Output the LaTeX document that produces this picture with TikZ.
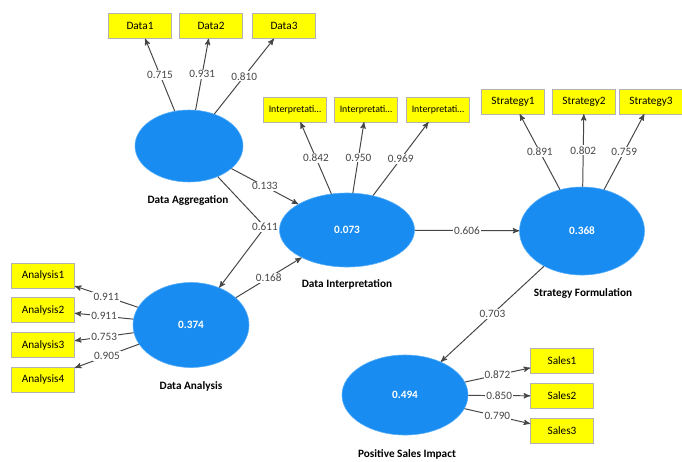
\documentclass[tikz,border=0pt]{standalone}
\usepackage{fontspec}
\setmainfont{Carlito}
\usepackage{tikz}
\usetikzlibrary{arrows,positioning,calc,shapes.geometric}
\definecolor{lvblue}{RGB}{24,140,240}
\definecolor{lvedge}{RGB}{90,175,250}
\definecolor{indyellow}{RGB}{255,255,0}
\definecolor{pathgray}{RGB}{70,70,70}

\begin{document}
\begin{tikzpicture}[x=0.025cm, y=-0.025cm, >=stealth', semithick,
      latent/.style={ellipse,fill=lvblue,draw=lvedge,thin,text=white,font=\fontsize{8}{9.6}\selectfont\bfseries,inner sep=0pt},
      indicator/.style={rectangle,fill=indyellow,draw=gray!60,thin,text=black,minimum width=1.58cm,minimum height=0.62cm,inner sep=1pt,font=\fontsize{8}{9.6}\selectfont},
      cutname/.style={indicator,font=\fontsize{7}{8.4}\selectfont},
      lvname/.style={font=\fontsize{8}{9.6}\selectfont\bfseries,text=black},
      coef/.style={fill=white,inner sep=0.8pt,text=pathgray,font=\fontsize{8}{9.6}\selectfont},
      link/.style={->,draw=pathgray,line width=0.7pt}]
    \useasboundingbox (0,0) rectangle (682,461);
    % latent variables
    \node[latent,minimum width=2.7cm,minimum height=1.8cm] at (189,146) (agg) {};
    \node[latent,minimum width=3.375cm,minimum height=1.85cm] at (347,230) (interp) {0.073};
    \node[latent,minimum width=3.125cm,minimum height=2.2cm] at (582,231) (strat) {0.368};
    \node[latent,minimum width=2.9cm,minimum height=2.125cm] at (191,325) (anal) {0.374};
    \node[latent,minimum width=3.15cm,minimum height=2cm] at (405,395) (sales) {0.494};
    \node[lvname] at (188,200) {Data Aggregation};
    \node[lvname] at (347,284) {Data Interpretation};
    \node[lvname] at (583,293) {Strategy Formulation};
    \node[lvname] at (191,386) {Data Analysis};
    \node[lvname] at (407,454) {Positive Sales Impact};
    % indicators
    \node[indicator] at (140,26) (d1) {Data1};
    \node[indicator] at (211,26) (d2) {Data2};
    \node[indicator] at (284,26) (d3) {Data3};
    \node[cutname] at (295,109.5) (i1) {Interpretati…};
    \node[cutname] at (366,109.5) (i2) {Interpretati…};
    \node[cutname] at (438,109.5) (i3) {Interpretati…};
    \node[indicator] at (513,101.5) (s1) {Strategy1};
    \node[indicator] at (584,101.5) (s2) {Strategy2};
    \node[indicator] at (651,101.5) (s3) {Strategy3};
    \node[indicator] at (43,275.5) (a1) {Analysis1};
    \node[indicator] at (43,310) (a2) {Analysis2};
    \node[indicator] at (43,345) (a3) {Analysis3};
    \node[indicator] at (43,379.5) (a4) {Analysis4};
    \node[indicator] at (562,361) (p1) {Sales1};
    \node[indicator] at (562,396) (p2) {Sales2};
    \node[indicator] at (562,431) (p3) {Sales3};
    % outer loadings
    \draw[link] (agg) -- node[coef] {0.715} (d1);
    \draw[link] (agg) -- node[coef] {0.931} (d2);
    \draw[link] (agg) -- node[coef] {0.810} (d3);
    \draw[link] (interp) -- node[coef] {0.842} (i1);
    \draw[link] (interp) -- node[coef] {0.950} (i2);
    \draw[link] (interp) -- node[coef] {0.969} (i3);
    \draw[link] (strat) -- node[coef] {0.891} (s1);
    \draw[link] (strat) -- node[coef] {0.802} (s2);
    \draw[link] (strat) -- node[coef] {0.759} (s3);
    \draw[link] (anal) -- node[coef] {0.911} (a1);
    \draw[link] (anal) -- node[coef] {0.911} (a2);
    \draw[link] (anal) -- node[coef] {0.753} (a3);
    \draw[link] (anal) -- node[coef] {0.905} (a4);
    \draw[link] (sales) -- node[coef] {0.872} (p1);
    \draw[link] (sales) -- node[coef] {0.850} (p2);
    \draw[link] (sales) -- node[coef] {0.790} (p3);
    % inner model
    \coordinate (bend) at (265,227);
    \draw[link] (agg) -- node[coef] {0.133} (interp);
    \draw[link] (agg) -- (bend) -- (anal);
    \node[coef] at (bend) {0.611};
    \draw[link] (anal) -- node[coef] {0.168} (interp);
    \draw[link] (interp) -- node[coef] {0.606} (strat);
    \draw[link] (strat) -- node[coef] {0.703} (sales);
\end{tikzpicture}
\end{document}
